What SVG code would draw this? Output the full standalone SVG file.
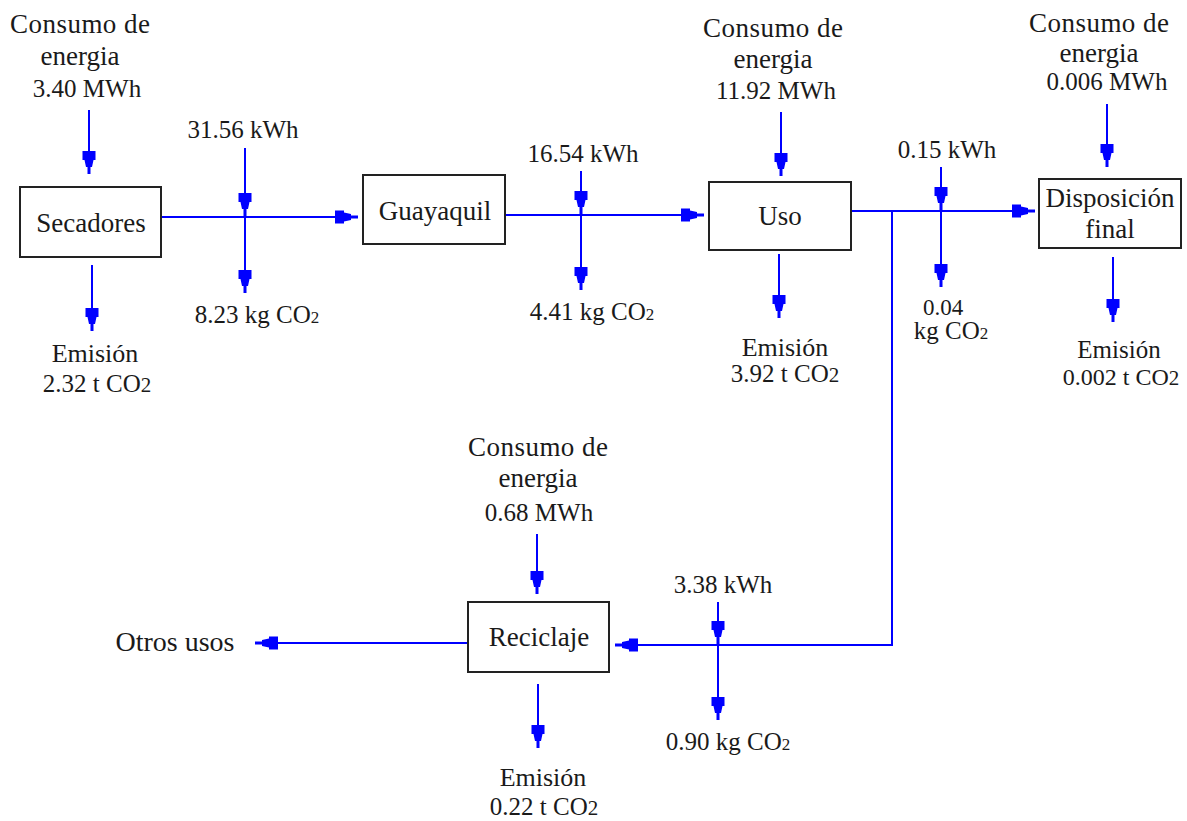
<svg xmlns="http://www.w3.org/2000/svg" width="1187" height="821" viewBox="0 0 1187 821">
<style>
text{font-family:"Liberation Serif","Times New Roman",serif;font-size:25px;fill:#1a1a1a;text-anchor:middle}
.nm{font-size:27px}
.em{font-size:26px}
.sm{font-size:23px}
.md{font-size:24px}
.big{font-size:28px}
.box{fill:#fff;stroke:#222;stroke-width:2}
.ln{stroke:#0000ff;stroke-width:2;fill:none}
.sub{font-size:17px}
.sub2{font-size:21px}
</style>
<defs>
<marker id="ah" markerUnits="userSpaceOnUse" viewBox="-25 -7 26 14" markerWidth="26" markerHeight="14" refX="0" refY="0" orient="auto">
<path d="M0,-1.5 L-7,-1.5 L-7,-3 L-14,-4.5 L-14,-6.5 L-23,-6.5 L-23,6.5 L-14,6.5 L-14,4.5 L-7,3 L-7,1.5 L0,1.5 Z" fill="#0000ff"/>
</marker>
</defs>
<rect width="1187" height="821" fill="#fff"/>
<g id="connectors">
<line class="ln" x1="89" y1="110" x2="89" y2="174" marker-end="url(#ah)"/>
<line class="ln" x1="92" y1="265" x2="92" y2="331" marker-end="url(#ah)"/>
<line class="ln" x1="161" y1="217" x2="358" y2="217" marker-end="url(#ah)"/>
<line class="ln" x1="245" y1="148" x2="245" y2="216" marker-end="url(#ah)"/>
<line class="ln" x1="245" y1="217" x2="245" y2="293" marker-end="url(#ah)"/>
<line class="ln" x1="505" y1="215" x2="704" y2="215" marker-end="url(#ah)"/>
<line class="ln" x1="581" y1="171" x2="581" y2="214" marker-end="url(#ah)"/>
<line class="ln" x1="581" y1="215" x2="581" y2="290" marker-end="url(#ah)"/>
<line class="ln" x1="781" y1="112" x2="781" y2="176" marker-end="url(#ah)"/>
<line class="ln" x1="779" y1="254" x2="779" y2="318" marker-end="url(#ah)"/>
<line class="ln" x1="851" y1="211" x2="1035" y2="211" marker-end="url(#ah)"/>
<line class="ln" x1="941" y1="167" x2="941" y2="210" marker-end="url(#ah)"/>
<line class="ln" x1="941" y1="211" x2="941" y2="287" marker-end="url(#ah)"/>
<line class="ln" x1="1107" y1="104" x2="1107" y2="167" marker-end="url(#ah)"/>
<line class="ln" x1="1113" y1="257" x2="1113" y2="322" marker-end="url(#ah)"/>
<polyline class="ln" points="892,211 892,645 615,645" marker-end="url(#ah)"/>
<line class="ln" x1="718" y1="602" x2="718" y2="644" marker-end="url(#ah)"/>
<line class="ln" x1="718" y1="645" x2="718" y2="720" marker-end="url(#ah)"/>
<line class="ln" x1="537" y1="534" x2="537" y2="594" marker-end="url(#ah)"/>
<line class="ln" x1="538" y1="684" x2="538" y2="748" marker-end="url(#ah)"/>
<line class="ln" x1="468" y1="643" x2="255" y2="643" marker-end="url(#ah)"/>
</g>
<g id="secadores">
<rect class="box" x="20" y="187" width="141" height="70"/>
<text class="nm" x="91" y="232">Secadores</text>
</g>
<g id="guayaquil">
<rect class="box" x="363" y="175" width="142" height="69"/>
<text class="nm" x="435" y="220">Guayaquil</text>
</g>
<g id="uso">
<rect class="box" x="709" y="182" width="142" height="68"/>
<text class="nm" x="780" y="225">Uso</text>
</g>
<g id="disposicion">
<rect class="box" x="1039" y="179" width="142" height="69"/>
<text class="nm" x="1110" y="207">Disposición</text>
<text class="nm" x="1110" y="238">final</text>
</g>
<g id="reciclaje">
<rect class="box" x="468" y="602" width="141" height="70"/>
<text class="nm" x="539" y="646">Reciclaje</text>
</g>
<g id="otros-usos">
<text class="big" x="175" y="651">Otros usos</text>
</g>
<g id="labels-secadores">
<text class="nm" x="80" y="33" textLength="140" lengthAdjust="spacing">Consumo de</text>
<text class="nm" x="80" y="65">energia</text>
<text x="87" y="97">3.40 MWh</text>
<text class="em" x="95" y="362">Emisión</text>
<text x="97" y="392">2.32 t CO<tspan class="sub2">2</tspan></text>
<text x="243" y="138">31.56 kWh</text>
<text x="257" y="323">8.23 kg CO<tspan class="sub">2</tspan></text>
</g>
<g id="labels-guayaquil">
<text x="583" y="162">16.54 kWh</text>
<text x="592" y="320">4.41 kg CO<tspan class="sub">2</tspan></text>
</g>
<g id="labels-uso">
<text class="nm" x="773" y="37" textLength="140" lengthAdjust="spacing">Consumo de</text>
<text class="nm" x="773" y="68">energia</text>
<text x="776" y="99">11.92 MWh</text>
<text class="em" x="785" y="356">Emisión</text>
<text x="785" y="382">3.92 t CO<tspan class="sub2">2</tspan></text>
<text x="947" y="158">0.15 kWh</text>
<text class="sm" x="943" y="315">0.04</text>
<text x="951" y="339">kg CO<tspan class="sub">2</tspan></text>
</g>
<g id="labels-disposicion">
<text class="nm" x="1099" y="32" textLength="140" lengthAdjust="spacing">Consumo de</text>
<text class="nm" x="1099" y="62">energia</text>
<text x="1107" y="90">0.006 MWh</text>
<text x="1119" y="358">Emisión</text>
<text class="md" x="1121" y="385">0.002 t CO<tspan class="sub2">2</tspan></text>
</g>
<g id="labels-reciclaje">
<text class="nm" x="538" y="456" textLength="140" lengthAdjust="spacing">Consumo de</text>
<text class="nm" x="538" y="487">energia</text>
<text x="539" y="521">0.68 MWh</text>
<text class="em" x="543" y="786">Emisión</text>
<text x="544" y="815">0.22 t CO<tspan class="sub2">2</tspan></text>
<text x="723" y="593">3.38 kWh</text>
<text x="728" y="750">0.90 kg CO<tspan class="sub">2</tspan></text>
</g>
</svg>
